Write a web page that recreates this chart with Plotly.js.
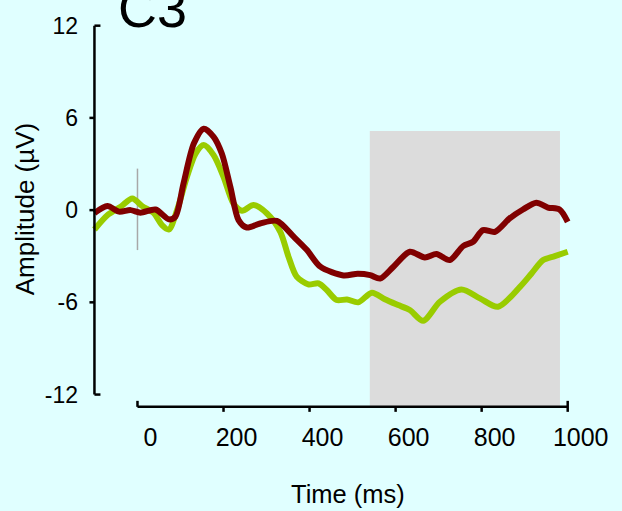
<!DOCTYPE html>
<html>
<head>
<meta charset="utf-8">
<script src="https://cdn.plot.ly/plotly-3.0.1.min.js"></script>
<style>html,body{margin:0;padding:0;background:#e0ffff;}</style>
</head>
<body>
<div id="chart" style="width:622px;height:511px;"></div>
<script>
// Time points (ms) and amplitudes (µV)
const timeMaroon = [-100, -70, -43, -16, 7, 42, 73, 88, 107, 131, 154, 177, 196, 216, 235, 254, 285, 324, 363, 394, 425, 479, 512, 541, 564, 595, 633, 668, 695, 726, 757, 780, 803, 831, 865, 896, 927, 954, 981, 1000];
const ampMaroon = [-0.2, 0.26, -0.1, 0, -0.17, 0.04, -0.6, -0.43, 1.73, 4.33, 5.3, 4.77, 3.68, 1.5, -0.65, -1.13, -0.87, -0.7, -1.73, -2.6, -3.68, -4.25, -4.14, -4.23, -4.45, -3.68, -2.71, -3.08, -2.86, -3.25, -2.34, -2.06, -1.3, -1.41, -0.54, 0.04, 0.48, 0.17, 0.04, -0.76];

const timeGreen = [-100, -70, -39, -12, 11, 38, 57, 73, 92, 115, 135, 154, 177, 200, 223, 243, 270, 301, 332, 351, 370, 397, 421, 440, 463, 487, 513, 545, 575, 606, 633, 664, 703, 753, 796, 838, 889, 916, 943, 970, 1000];
const ampGreen = [-1.26, -0.33, 0.22, 0.76, 0.26, -0.2, -0.98, -1.26, 0, 2.17, 3.68, 4.23, 3.58, 2.17, 0.43, -0.04, 0.33, -0.22, -1.41, -3.03, -4.33, -4.83, -4.77, -5.2, -5.85, -5.81, -6.0, -5.37, -5.8, -6.18, -6.5, -7.2, -5.96, -5.16, -5.74, -6.29, -4.99, -4.12, -3.25, -2.99, -2.71];

const xTicks = [0, 200, 400, 600, 800, 1000];
const yTicks = [-12, -6, 0, 6, 12];
const windowStart = 540, windowEnd = 982, windowTop = 5.15;
const axisY = -12.8, axisX = -100;

const FONT = 'Arial, "Liberation Sans", sans-serif';

const traces = [
  {x: timeGreen, y: ampGreen, mode: 'lines', line: {color: '#99cc00', width: 6, shape: 'spline', smoothing: 0.8}, hoverinfo: 'skip'},
  {x: timeMaroon, y: ampMaroon, mode: 'lines', line: {color: '#800000', width: 6, shape: 'spline', smoothing: 0.8}, hoverinfo: 'skip'}
];

const shapes = [
  {type: 'rect', xref: 'x', yref: 'y', x0: windowStart, x1: windowEnd, y0: axisY, y1: windowTop, fillcolor: '#dcdcdc', line: {width: 0}, layer: 'below'},
  {type: 'line', xref: 'x', yref: 'y', x0: 0, x1: 0, y0: -2.6, y1: 2.7, line: {color: '#a8a8a8', width: 1.5}, layer: 'below'},
  // y axis line
  {type: 'line', xref: 'x', yref: 'y', x0: axisX, x1: axisX, y0: yTicks[0], y1: yTicks[yTicks.length-1], line: {color: '#000', width: 2.5}},
  // x axis line
  {type: 'line', xref: 'x', yref: 'y', x0: xTicks[0], x1: xTicks[xTicks.length-1], y0: axisY, y1: axisY, line: {color: '#000', width: 2.5}}
];
yTicks.forEach((v, i) => {
  const end = (i === 0 || i === yTicks.length - 1);
  shapes.push({type: 'line', xref: 'x', yref: 'y', xsizemode: 'pixel', xanchor: axisX,
    x0: end ? 0 : -5, x1: end ? 6 : 0, y0: v, y1: v, line: {color: '#000', width: 2.5}});
});
xTicks.forEach((v, i) => {
  let y0 = -5, y1 = 0;
  if (i === 0) { y0 = 0; y1 = 6; }
  if (i === xTicks.length - 1) { y0 = -5; y1 = 6; }
  shapes.push({type: 'line', xref: 'x', yref: 'y', ysizemode: 'pixel', yanchor: axisY,
    x0: v, x1: v, y0: y0, y1: y1, line: {color: '#000', width: 2.5}});
});

const layout = {
  width: 622, height: 511,
  margin: {l: 88, r: 50, t: 18, b: 98},
  paper_bgcolor: '#e0ffff', plot_bgcolor: '#e0ffff',
  showlegend: false,
  xaxis: {range: [-115, 1010], showline: false, showgrid: false, zeroline: false, ticks: '',
    tickvals: xTicks, ticktext: xTicks.map(String), ticklabelshift: 13, ticklabelstandoff: 7,
    tickfont: {family: FONT, size: 25, color: '#000'}},
  yaxis: {range: [-13.2, 12.5], showline: false, showgrid: false, zeroline: false, ticks: '',
    tickvals: yTicks, ticktext: yTicks.map(String), ticklabelstandoff: 9,
    tickfont: {family: FONT, size: 23, color: '#000'}},
  shapes: shapes,
  annotations: [
    {text: 'C3', xref: 'paper', yref: 'paper', x: 0.134, y: 1.025, xanchor: 'center', yanchor: 'middle', showarrow: false,
      font: {family: FONT, size: 54, color: '#000'}},
    {text: 'Time (ms)', xref: 'paper', yref: 'paper', x: 0.537, y: -0.205, xanchor: 'center', yanchor: 'middle', showarrow: false,
      font: {family: FONT, size: 25.5, color: '#000'}},
    {text: 'Amplitude (µV)', xref: 'paper', yref: 'paper', x: -0.13, y: 0.516, xanchor: 'center', yanchor: 'middle', showarrow: false, textangle: -90,
      font: {family: FONT, size: 26, color: '#000'}}
  ]
};

Plotly.newPlot('chart', traces, layout, {staticPlot: true, displayModeBar: false});
</script>
</body>
</html>
